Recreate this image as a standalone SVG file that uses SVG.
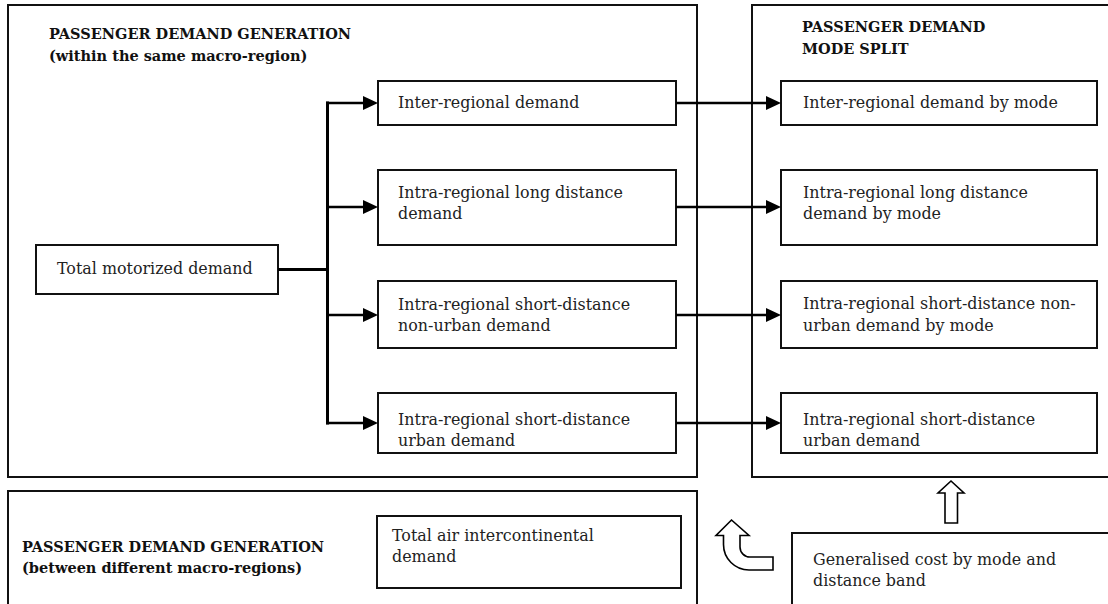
<svg xmlns="http://www.w3.org/2000/svg" width="1108" height="604" viewBox="0 0 1108 604">
<style>
.frame{fill:#fff;stroke:#111;stroke-width:2}
.box{fill:#fff;stroke:#111;stroke-width:2}
.title{font-family:"DejaVu Serif","Liberation Serif",serif;font-weight:bold;font-size:14.5px;fill:#111}
.txt{font-family:"DejaVu Serif","Liberation Serif",serif;font-size:15.9px;fill:#222}
.conn{stroke:#000;stroke-width:2.5;fill:none}
.trunk{stroke:#000;stroke-width:3;fill:none}
.block{fill:#fff;stroke:#000;stroke-width:1.6}
</style>
<defs>
<marker id="ah" markerUnits="userSpaceOnUse" markerWidth="15" markerHeight="14" refX="0" refY="7" orient="auto">
<path d="M0,0 L15,7 L0,14 Z" fill="#000"/>
</marker>
</defs>
<rect width="1108" height="604" fill="#fff"/>

<g id="gen-within">
<rect class="frame" x="8" y="5" width="689" height="472"/>
<text class="title" x="49" y="39">PASSENGER DEMAND GENERATION</text>
<text class="title" x="49" y="61">(within the same macro-region)</text>
</g>

<g id="mode-split">
<rect class="frame" x="752" y="5" width="370" height="472"/>
<text class="title" x="802" y="32">PASSENGER DEMAND</text>
<text class="title" x="802" y="54">MODE SPLIT</text>
</g>

<g id="gen-between">
<rect class="frame" x="8" y="491" width="689" height="130"/>
<text class="title" x="22" y="552">PASSENGER DEMAND GENERATION</text>
<text class="title" x="22" y="573">(between different macro-regions)</text>
</g>

<g id="total-motorized">
<rect class="box" x="36" y="245" width="242" height="49"/>
<text class="txt" x="57" y="274">Total motorized demand</text>
</g>

<g id="inter-regional">
<rect class="box" x="378" y="81" width="298" height="44"/>
<text class="txt" x="398" y="108">Inter-regional demand</text>
</g>
<g id="intra-long">
<rect class="box" x="378" y="170" width="298" height="75"/>
<text class="txt" x="398" y="198">Intra-regional long distance</text>
<text class="txt" x="398" y="219">demand</text>
</g>
<g id="intra-short-nonurban">
<rect class="box" x="378" y="281" width="298" height="67"/>
<text class="txt" x="398" y="310">Intra-regional short-distance</text>
<text class="txt" x="398" y="331">non-urban demand</text>
</g>
<g id="intra-short-urban">
<rect class="box" x="378" y="393" width="298" height="60"/>
<text class="txt" x="398" y="425">Intra-regional short-distance</text>
<text class="txt" x="398" y="446">urban demand</text>
</g>

<g id="inter-regional-mode">
<rect class="box" x="781" y="81" width="316" height="44"/>
<text class="txt" x="803" y="108">Inter-regional demand by mode</text>
</g>
<g id="intra-long-mode">
<rect class="box" x="781" y="170" width="316" height="75"/>
<text class="txt" x="803" y="198">Intra-regional long distance</text>
<text class="txt" x="803" y="219">demand by mode</text>
</g>
<g id="intra-short-nonurban-mode">
<rect class="box" x="781" y="281" width="316" height="67"/>
<text class="txt" x="803" y="309">Intra-regional short-distance non-</text>
<text class="txt" x="803" y="331">urban demand by mode</text>
</g>
<g id="intra-short-urban-mode">
<rect class="box" x="781" y="393" width="316" height="60"/>
<text class="txt" x="803" y="425">Intra-regional short-distance</text>
<text class="txt" x="803" y="446">urban demand</text>
</g>

<g id="air-intercontinental">
<rect class="box" x="377" y="516" width="304" height="72"/>
<text class="txt" x="392" y="541">Total air intercontinental</text>
<text class="txt" x="392" y="562">demand</text>
</g>

<g id="generalised-cost">
<rect class="box" x="792" y="533" width="330" height="90"/>
<text class="txt" x="813" y="565">Generalised cost by mode and</text>
<text class="txt" x="813" y="586">distance band</text>
</g>

<g id="connectors">
<path class="trunk" d="M278,269.5 H327.5"/>
<path class="trunk" d="M327.5,101.5 V424.5"/>
<path class="conn" marker-end="url(#ah)" d="M326,103 H363"/>
<path class="conn" marker-end="url(#ah)" d="M326,207 H363"/>
<path class="conn" marker-end="url(#ah)" d="M326,315 H363"/>
<path class="conn" marker-end="url(#ah)" d="M326,423 H363"/>
<path class="conn" marker-end="url(#ah)" d="M676,103 H766"/>
<path class="conn" marker-end="url(#ah)" d="M676,207 H766"/>
<path class="conn" marker-end="url(#ah)" d="M676,315 H766"/>
<path class="conn" marker-end="url(#ah)" d="M676,423 H766"/>
<path class="block" d="M951,481 L964,493 L957.5,493 L957.5,523 L945,523 L945,493 L938,493 Z"/>
<path class="block" d="M731.5,520 L749,535.5 L740,535.5 L740,547 A10,10 0 0 0 750,557 L773,557 L773,570 L749,570 A25.5,25.5 0 0 1 723.5,544.5 L723.5,535.5 L716,535.5 Z"/>
</g>
</svg>
